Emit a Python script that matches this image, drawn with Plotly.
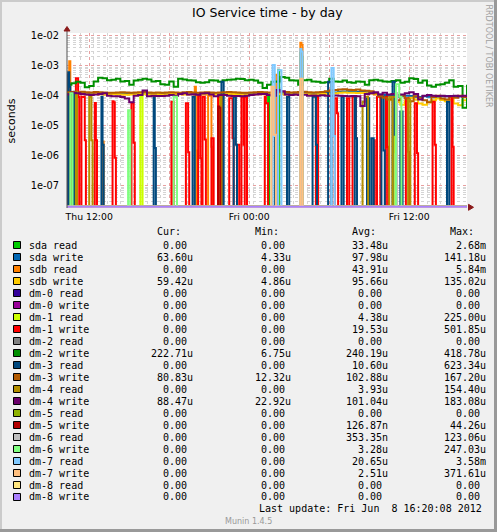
import plotly.graph_objects as go
from datetime import datetime, timedelta

# ---------------- data ----------------
START = datetime(2012, 6, 7, 10, 20)
END = datetime(2012, 6, 8, 16, 20)

names = ["sda read", "sda write", "sdb read", "sdb write", "dm-0 read", "dm-0 write",
         "dm-1 read", "dm-1 write", "dm-2 read", "dm-2 write", "dm-3 read", "dm-3 write",
         "dm-4 read", "dm-4 write", "dm-5 read", "dm-5 write", "dm-6 read", "dm-6 write",
         "dm-7 read", "dm-7 write", "dm-8 read", "dm-8 write"]
colors = ["#00CC00", "#0066B3", "#FF8000", "#FFCC00", "#330099", "#990099",
          "#CCFF00", "#FF0000", "#808080", "#008F00", "#00487D", "#B35A00",
          "#B38F00", "#6B006B", "#8FB300", "#B30000", "#BEBEBE", "#80FF80",
          "#80C9FF", "#FFC080", "#FFE680", "#AA80FF"]

cur = [0, 63.60e-6, 0, 59.42e-6, 0, 0, 0, 0, 0, 222.71e-6, 0, 80.83e-6, 0, 88.47e-6,
       0, 0, 0, 0, 0, 0, 0, 0]
mins = [0, 4.33e-6, 0, 4.86e-6, 0, 0, 0, 0, 0, 6.75e-6, 0, 12.32e-6, 0, 22.92e-6,
        0, 0, 0, 0, 0, 0, 0, 0]
avgs = [33.48e-6, 97.98e-6, 43.91e-6, 95.66e-6, 0, 0, 4.38e-6, 19.53e-6, 0, 240.19e-6,
        10.60e-6, 102.88e-6, 3.93e-6, 101.04e-6, 0, 126.87e-9, 353.35e-9, 3.28e-6,
        20.65e-6, 2.51e-6, 0, 0]
maxs = [2.68e-3, 141.18e-6, 5.84e-3, 135.02e-6, 0, 0, 225.00e-6, 501.85e-6, 0, 418.78e-6,
        623.34e-6, 167.20e-6, 154.40e-6, 183.08e-6, 0, 44.26e-6, 123.06e-6, 247.03e-6,
        3.58e-3, 371.61e-6, 0, 0]

# continuous series, one value (microseconds) every 20 minutes
sda_write_us = [120, 118, 122, 125, 120, 118, 122, 120, 118, 120, 122,
                120, 118, 115, 118, 120, 122, 120, 118, 120, 119,
                118, 120, 122, 121, 120, 118, 120, 122, 120, 118,
                120, 121, 119, 118, 120, 122, 121, 120, 118, 117,
                118, 120, 122, 120, 118, 121, 122, 120, 118, 119,
                120, 121, 123, 120, 118, 119, 121, 122, 125, 128,
                135, 138, 140, 138, 136, 135, 130, 128, 120, 110,
                105, 100, 95, 90, 95, 100, 98, 92, 90, 95,
                92, 88, 90, 95, 98, 92, 90, 95, 93, 90]
sdb_write_us = [112, 110, 115, 118, 112, 110, 114, 112, 110, 112, 114,
                112, 110, 108, 110, 112, 114, 112, 110, 112, 111,
                110, 112, 114, 113, 112, 110, 112, 114, 112, 110,
                112, 113, 111, 110, 112, 114, 113, 112, 110, 109,
                110, 112, 114, 112, 110, 113, 114, 112, 110, 111,
                112, 113, 115, 112, 110, 111, 113, 114, 118, 120,
                125, 128, 126, 125, 124, 122, 120, 118, 112, 100,
                90, 80, 70, 60, 50, 65, 85, 75, 55, 50,
                60, 70, 80, 72, 65, 75, 55, 48, 70, 80]
dm2_write_us = [230, 260, 290, 270, 190, 210, 300, 400, 380, 330, 340,
                370, 300, 310, 230, 320, 340, 370, 350, 300, 310,
                240, 230, 300, 200, 370, 350, 330, 320, 280, 270,
                280, 330, 320, 290, 330, 340, 350, 370, 360, 330,
                340, 320, 270, 180, 230, 290, 300, 418, 400, 330,
                320, 230, 330, 340, 300, 290, 270, 280, 370, 300,
                290, 320, 280, 270, 300, 290, 230, 330, 340, 320,
                300, 290, 310, 330, 270, 290, 380, 360, 270, 320,
                220, 200, 230, 240, 270, 330, 200, 210, 40, 230]
dm3_write_us = [130, 132, 128, 135, 130, 128, 132, 130, 128, 126, 125,
                128, 130, 127, 126, 128, 130, 132, 128, 126, 127,
                125, 128, 130, 128, 126, 130, 132, 128, 126, 128,
                130, 128, 126, 128, 130, 132, 130, 128, 125, 126,
                128, 130, 132, 130, 128, 126, 130, 135, 132, 128,
                130, 132, 135, 130, 128, 130, 132, 140, 150, 155,
                160, 165, 158, 155, 160, 150, 145, 140, 120, 95,
                85, 75, 90, 70, 100, 80, 65, 95, 85, 70,
                60, 90, 100, 80, 75, 95, 85, 100, 90, 95]
dm4_write_us = [110, 125, 120, 115, 110, 105, 110, 115, 120, 100, 95,
                95, 90, 80, 60, 100, 105, 150, 95, 100, 98,
                97, 100, 105, 100, 115, 120, 110, 112, 108, 118,
                120, 110, 95, 105, 105, 100, 97, 98, 95, 100,
                105, 110, 115, 115, 105, 100, 155, 140, 110, 105,
                110, 105, 108, 100, 102, 100, 103, 100, 98, 102,
                100, 97, 95, 98, 95, 45, 115, 120, 130, 110,
                125, 110, 115, 105, 110, 120, 130, 115, 75, 100,
                105, 100, 98, 100, 95, 97, 100, 95, 100, 88]

# sparse series: (minutes after 10:20 Thu, values in microseconds per 5-minute step); zero elsewhere
sda_read_runs = [(905, [93]), (950, [700]), (1050, [2680, 2000])]
sdb_read_runs = [(10, [1400, 90]), (160, [3.0]), (575, [200, 1.5]), (635, [100, 100, 100, 2]),
                 (680, [90, 90, 3]), (940, [500, 500]), (1050, [5840, 5000])]
dm1_read_runs = [(330, [93, 93]), (945, [2.0]), (1470, [36, 1.3])]
dm1_write_runs = [(0, [500, 90]), (40, [380, 380, 90]), (65, [93, 93, 90, 3.3]), (125, [57, 3.3]),
                  (205, [65, 60, 0.85]), (290, [56, 56, 2.7]), (470, [63, 63]), (535, [56, 56, 1.3]),
                  (590, [100, 100, 0.82]), (610, [93, 93, 3.5]), (650, [3.8, 3.8]),
                  (680, [93, 93, 93, 90]), (730, [82, 82, 82, 3.8]), (765, [2.3, 2.3]),
                  (785, [93, 93, 2.3]), (800, [93, 93]), (890, [93, 56, 56]), (1120, [93, 93]),
                  (1205, [82, 82, 26]), (1260, [82, 82]), (1285, [93, 93, 93, 3.8]), (1380, [3.3]),
                  (1395, [93, 93, 93]), (1435, [93, 2]), (1525, [82, 82, 1.36]),
                  (1565, [56, 56, 1.2]), (1645, [63, 63, 2.3]), (1730, [93, 2])]
dm3_read_runs = [(5, [600, 200]), (30, [136]), (155, [93, 2.3]), (390, [93, 1.8]), (565, [93, 93]),
                 (695, [290, 290]), (750, [93, 93, 2.3]), (935, [4.5, 4.5]), (990, [93, 93]),
                 (1105, [93, 93, 93, 2.3]), (1175, [290, 290, 290]), (1235, [93, 93]),
                 (1295, [93, 3.8]), (1350, [82, 82]), (1370, [3.8, 3.8]), (1415, [93, 93, 1.5]),
                 (1465, [290, 290, 5]), (1500, [30, 30]), (1710, [63, 63])]
dm4_read_runs = [(40, [136]), (100, [93, 93, 3.3]), (690, [93]), (1330, [63, 63, 93, 93, 93]),
                 (1450, [93, 93, 93]), (1535, [75, 75])]
dm5_write_runs = [(680, [44, 40])]
dm6_read_runs = [(1480, [123])]
dm6_write_runs = [(15, [120, 120]), (275, [33, 33]), (480, [93, 93, 93]),
                  (1480, [240, 240, 240, 93, 93])]
dm7_read_runs = [(925, [1050, 1050, 4.5]), (950, [700, 700, 700]), (1050, [3580, 3000]),
                 (1190, [840, 840, 4.5])]
dm7_write_runs = [(920, [200, 200, 5, 5]), (1050, [370, 370])]

x_ticks = [datetime(2012, 6, 7, 12), datetime(2012, 6, 7, 18), datetime(2012, 6, 8, 0),
           datetime(2012, 6, 8, 6), datetime(2012, 6, 8, 12)]
x_ticktext = ["Thu 12:00", "", "Fri 00:00", "", "Fri 12:00"]
y_ticks = [1e-2, 1e-3, 1e-4, 1e-5, 1e-6, 1e-7]
y_ticktext = ["1e-02", "1e-03", "1e-04", "1e-05", "1e-06", "1e-07"]

# ---------------- build ----------------
W, H = 497, 532
L, R, T, B = 67, 30, 33, 324
PW, PH = W - L - R, H - T - B
LOG_TOP, LOG_BOT = -1.91, -7.743
FLOOR = 10 ** -7.70  # zero values sit on the bottom edge as in rrdtool


def xp(px):
    return (px - L) / PW


def yp(py):
    return (H - B - py) / PH


def tm(m):
    return START + timedelta(minutes=m)


grid = [START + timedelta(minutes=20 * i) for i in range(len(dm2_write_us))]


def dense(us):
    return grid, [v * 1e-6 for v in us]


def sparse(runs):
    xs, ys = [START], [FLOOR]
    for m, vals in runs:
        xs.append(tm(m)); ys.append(FLOOR)
        for k, v in enumerate(vals):
            xs.append(tm(m + 5 * k)); ys.append(v * 1e-6)
        xs.append(tm(m + 5 * len(vals))); ys.append(FLOOR)
    xs.append(END); ys.append(FLOOR)
    return xs, ys


series = {
    "sda read": sparse(sda_read_runs),
    "sda write": dense(sda_write_us),
    "sdb read": sparse(sdb_read_runs),
    "sdb write": dense(sdb_write_us),
    "dm-0 read": sparse([]),
    "dm-0 write": sparse([]),
    "dm-1 read": sparse(dm1_read_runs),
    "dm-1 write": sparse(dm1_write_runs),
    "dm-2 read": sparse([]),
    "dm-2 write": dense(dm2_write_us),
    "dm-3 read": sparse(dm3_read_runs),
    "dm-3 write": dense(dm3_write_us),
    "dm-4 read": sparse(dm4_read_runs),
    "dm-4 write": dense(dm4_write_us),
    "dm-5 read": sparse([]),
    "dm-5 write": sparse(dm5_write_runs),
    "dm-6 read": sparse(dm6_read_runs),
    "dm-6 write": sparse(dm6_write_runs),
    "dm-7 read": sparse(dm7_read_runs),
    "dm-7 write": sparse(dm7_write_runs),
    "dm-8 read": sparse([]),
    "dm-8 write": sparse([]),
}

fig = go.Figure()
for name, col in zip(names, colors):
    xs, ys = series[name]
    fig.add_trace(go.Scatter(x=xs, y=ys, mode="lines", name=name,
                             line=dict(color=col, width=2, shape="hv"),
                             showlegend=False, hoverinfo="skip"))

SANS = "DejaVu Sans"
MONO = "DejaVu Sans Mono"

fig.update_layout(
    width=W, height=H, autosize=False,
    margin=dict(l=L, r=R, t=T, b=B, pad=0),
    paper_bgcolor="#F0F0F0", plot_bgcolor="#FFFFFF",
    font=dict(family=SANS, color="#000000", size=10),
    showlegend=False,
    xaxis=dict(type="date", range=[START, END], tickmode="array",
               tickvals=x_ticks, ticktext=x_ticktext,
               showgrid=True, gridcolor="#E8A0A0", griddash="dot", gridwidth=1,
               minor=dict(dtick=3600000, tick0=START, showgrid=True,
                          gridcolor="#D4D4D4", griddash="dot", gridwidth=1),
               showline=False, zeroline=False, ticks="",
               tickfont=dict(family=SANS, size=9.3, color="#000"),
               ticklabelstandoff=2, fixedrange=True),
    yaxis=dict(type="log", range=[LOG_BOT, LOG_TOP], tickmode="array",
               tickvals=y_ticks, ticktext=y_ticktext,
               showgrid=True, gridcolor="#E8A0A0", griddash="dot", gridwidth=1,
               minor=dict(dtick="D1", showgrid=True, gridcolor="#D4D4D4",
                          griddash="dot", gridwidth=1),
               showline=False, zeroline=False, ticks="",
               tickfont=dict(family=SANS, size=9.8, color="#000"),
               ticklabelstandoff=7, fixedrange=True),
)

shapes = []
ann = []

# axes, arrows, frame
shapes.append(dict(type="line", xref="paper", yref="paper", x0=xp(67), x1=xp(67),
                   y0=yp(208), y1=yp(29), line=dict(color="#505050", width=1), layer="above"))
shapes.append(dict(type="path", xref="paper", yref="paper", fillcolor="#8B1A1A",
                   line=dict(color="#8B1A1A", width=1),
                   path=f"M {xp(67)} {yp(26.5)} L {xp(64)} {yp(31)} L {xp(70)} {yp(31)} Z"))
shapes.append(dict(type="path", xref="paper", yref="paper", fillcolor="#8B1A1A",
                   line=dict(color="#8B1A1A", width=1),
                   path=f"M {xp(473.5)} {yp(207.3)} L {xp(468.5)} {yp(204.3)} L {xp(468.5)} {yp(210.3)} Z"))
shapes.append(dict(type="line", xref="paper", yref="paper", x0=xp(0), x1=xp(W),
                   y0=yp(1), y1=yp(1), line=dict(color="#CBCBCB", width=2)))
shapes.append(dict(type="line", xref="paper", yref="paper", x0=xp(1), x1=xp(1),
                   y0=yp(0), y1=yp(H), line=dict(color="#CBCBCB", width=2)))
shapes.append(dict(type="line", xref="paper", yref="paper", x0=xp(0), x1=xp(W),
                   y0=yp(H - 1.5), y1=yp(H - 1.5), line=dict(color="#999999", width=3)))
shapes.append(dict(type="line", xref="paper", yref="paper", x0=xp(W - 1.5), x1=xp(W - 1.5),
                   y0=yp(0), y1=yp(H), line=dict(color="#999999", width=3)))

# title and side texts
ann.append(dict(text="IO Service time - by day", xref="paper", yref="paper", x=0.5, y=yp(13),
                xanchor="center", yanchor="middle", showarrow=False,
                font=dict(family=SANS, size=12.5, color="#000")))
ann.append(dict(text="seconds", xref="paper", yref="paper", x=xp(11), y=yp(120.5),
                textangle=-90, xanchor="center", yanchor="middle", showarrow=False,
                font=dict(family=SANS, size=11, color="#000")))
ann.append(dict(text="RRDTOOL / TOBI OETIKER", xref="paper", yref="paper", x=xp(488.5), y=yp(56),
                textangle=90, xanchor="center", yanchor="middle", showarrow=False,
                font=dict(family=SANS, size=8, color="#A0A0A0")))


def si(v):
    if v == 0:
        return f"{0:6.2f}"
    if v >= 1:
        return f"{v:6.2f}"
    if v >= 1e-3:
        return f"{v / 1e-3:6.2f}m"
    if v >= 1e-6:
        return f"{v / 1e-6:6.2f}u"
    return f"{v / 1e-9:6.2f}n"


def nb(s):
    return s.replace(" ", "\u00a0")


col_x = [148.5, 246.7, 343.5, 441.5]
headers = ["Cur:", "Min:", "Avg:", "Max:"]
for cx, h in zip(col_x, headers):
    ann.append(dict(text=h, xref="paper", yref="paper", x=xp(cx + 6), y=yp(231.5),
                    xanchor="left", yanchor="middle", showarrow=False,
                    font=dict(family=MONO, size=10, color="#000")))

for i, (name, col) in enumerate(zip(names, colors)):
    cy = 245 + 12 * i
    shapes.append(dict(type="rect", xref="paper", yref="paper", x0=xp(13.5), x1=xp(20.5),
                       y0=yp(cy + 3.5), y1=yp(cy - 3.5), fillcolor=col,
                       line=dict(color="#000000", width=1)))
    ann.append(dict(text=nb(name), xref="paper", yref="paper", x=xp(26.5), y=yp(cy),
                    xanchor="left", yanchor="middle", showarrow=False,
                    font=dict(family=MONO, size=10, color="#000")))
    for cx, arr in zip(col_x, [cur, mins, avgs, maxs]):
        ann.append(dict(text=nb(si(arr[i])), xref="paper", yref="paper", x=xp(cx), y=yp(cy),
                        xanchor="left", yanchor="middle", showarrow=False,
                        font=dict(family=MONO, size=10, color="#000")))

ann.append(dict(text=nb("Last update: Fri Jun  8 16:20:08 2012"), xref="paper", yref="paper",
                x=xp(483.5), y=yp(508), xanchor="right", yanchor="middle", showarrow=False,
                font=dict(family=MONO, size=10, color="#000")))
ann.append(dict(text="Munin 1.4.5", xref="paper", yref="paper", x=xp(248.3), y=yp(521.7),
                xanchor="center", yanchor="middle", showarrow=False,
                font=dict(family=SANS, size=8, color="#999999")))

fig.update_layout(shapes=shapes, annotations=ann)
fig.write_html("out.html")
